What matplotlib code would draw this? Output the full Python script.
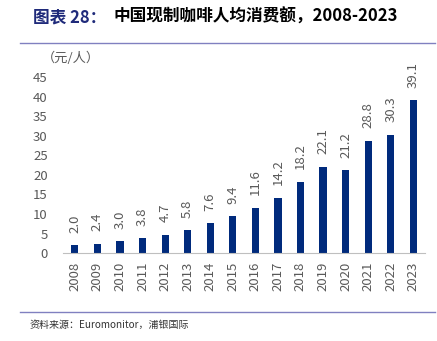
import numpy as np
from matplotlib import pyplot as plt

plt.rcParams['font.family'] = ['Noto Sans CJK SC', 'DejaVu Sans']

years = ["2008", "2009", "2010", "2011", "2012", "2013", "2014", "2015",
         "2016", "2017", "2018", "2019", "2020", "2021", "2022", "2023"]
spend = [2.0, 2.4, 3.0, 3.8, 4.7, 5.8, 7.6, 9.4, 11.6, 14.2, 18.2, 22.1, 21.2, 28.8, 30.3, 39.1]

navy = "#002a7c"
gray = "#595959"

fig = plt.figure(figsize=(4.37, 3.41), dpi=100)
ax = fig.add_axes([0.144, 0.258, 0.829, 0.515])

x = np.arange(len(years))
ax.bar(x, spend, width=0.32, color=navy)
for xi, v in zip(x, spend):
    ax.annotate(f"{v:.1f}", (xi, v), xytext=(0, 9), textcoords="offset points",
                rotation=90, ha="center", va="bottom", fontsize=9.5, color=gray)

ax.set_xlim(-0.53, len(years) - 0.47)
ax.set_ylim(0, 45)
ax.set_yticks(range(0, 46, 5))
ax.set_xticks(x)
ax.set_xticklabels(years, rotation=90, fontsize=9.5, color=gray)
ax.tick_params(axis="y", labelsize=9.5, labelcolor=gray, length=0, pad=11)
ax.tick_params(axis="x", length=0, pad=6)
for s in ["top", "right", "left"]:
    ax.spines[s].set_visible(False)
ax.spines["bottom"].set_color("#bfbfbf")

# title and frame lines
fig.text(0.075, 0.95, "图表 28：", fontsize=12, fontweight="bold", color="#1f2a7a", va="center")
fig.text(0.259, 0.95, "中国现制咖啡人均消费额，2008-2023", fontsize=12, fontweight="bold",
         color="black", va="center")
fig.add_artist(plt.Line2D([0.045, 0.995], [0.873, 0.873], color="#8080c0", lw=1))
fig.add_artist(plt.Line2D([0.045, 0.995], [0.085, 0.085], color="#8080c0", lw=1))
fig.text(0.095, 0.83, "（元/人）", fontsize=9.5, color=gray, va="center")
fig.text(0.068, 0.047, "资料来源：Euromonitor，浦银国际", fontsize=7.2, color="#333333", va="center")

plt.savefig("out.png", dpi=100)
